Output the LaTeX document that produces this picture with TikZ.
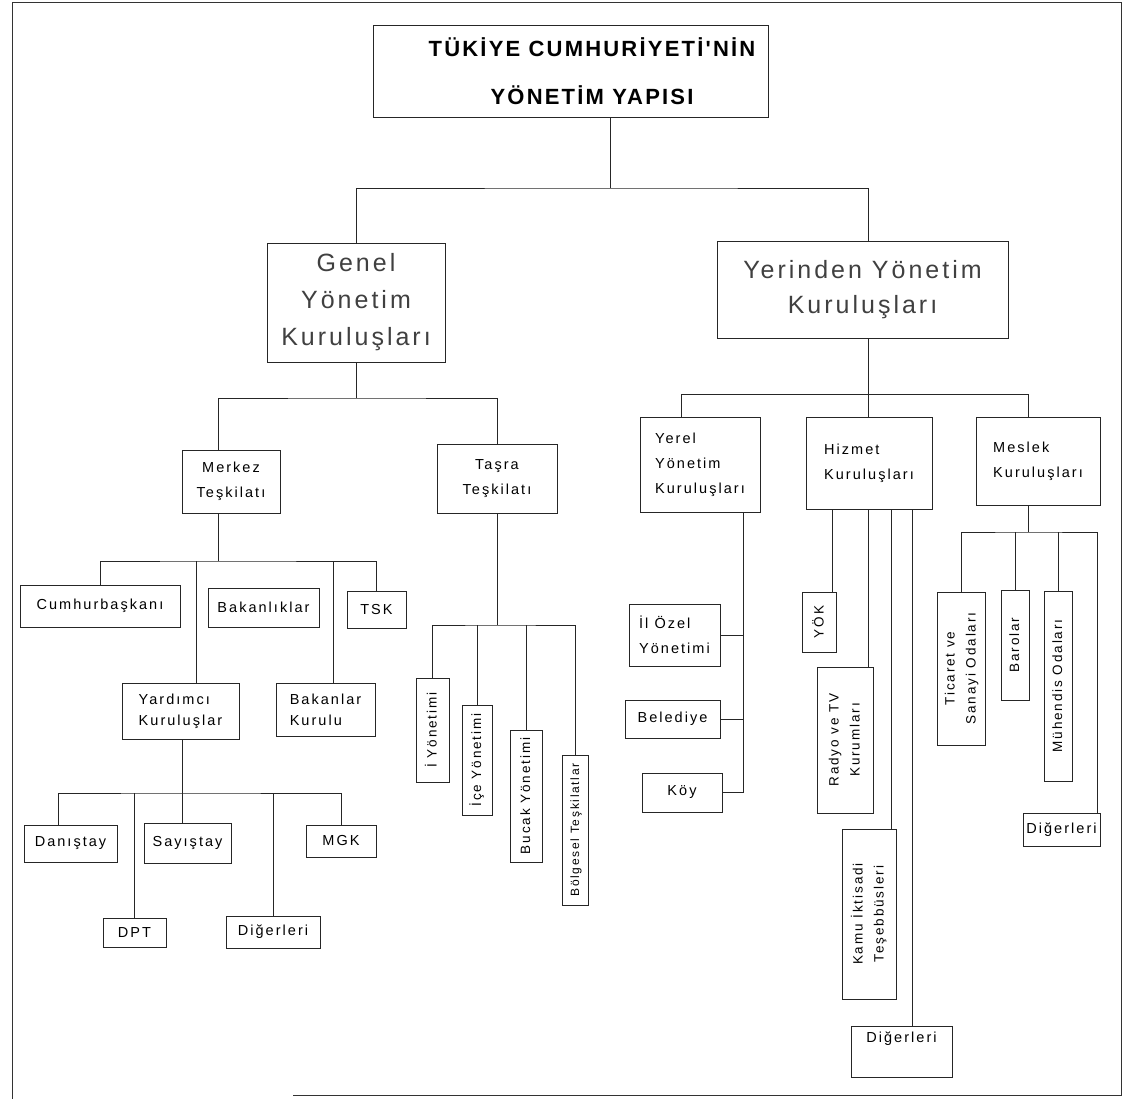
\documentclass[tikz,border=0pt]{standalone}
\usepackage{fontspec}
\usepackage{graphicx}
\setmainfont{Liberation Sans}
\newfontfamily\titlefont{Liberation Sans}[LetterSpace=10]
\newfontfamily\spacedfont{Liberation Sans}[LetterSpace=14]
\newfontfamily\bigfont{Liberation Sans}[LetterSpace=12]
\usetikzlibrary{calc}
\tikzset{
  box/.style={draw=black!85, line width=0.8pt, inner sep=2pt, align=center,
    font=\fontsize{14.5}{25}\selectfont\spacedfont},
  bigbox/.style={box, font=\fontsize{25}{37}\selectfont\bigfont, text=black!75},
  link/.style={draw=black!85, line width=0.8pt},
}
\newcommand{\vtext}[2][13.5]{\rotatebox{90}{\fontsize{#1}{21}\selectfont\spacedfont\begin{tabular}{@{}c@{}}#2\end{tabular}}}

\begin{document}
\begin{tikzpicture}[x=1pt,y=-1pt]
  \useasboundingbox (0,0) rectangle (1133,1099);
  % frame
  \draw[line width=1pt, black!80] (293,1095) -- (1121,1095) -- (1121,3) -- (12,3) -- (12,1099);

  % title
  \node[box, minimum width=395, minimum height=92] at (570.5,71) (title) {};
  \node[font=\fontsize{22}{48}\selectfont\titlefont\bfseries, align=center] at (592,71) (titletext)
    {TÜKİYE CUMHURİYETİ'NİN\\YÖNETİM YAPISI};

  % level 1
  \node[bigbox, minimum width=178, minimum height=119] at (356,302.5) (genel) {Genel\\Yönetim\\Kuruluşları};
  \node[bigbox, font=\fontsize{25}{35}\selectfont\bigfont, minimum width=291, minimum height=97] at (862.5,289.5) (yerinden)
    {Yerinden Yönetim\\Kuruluşları};

  % genel yonetim
  \node[box, minimum width=98, minimum height=63] at (231,481.5) (merkez) {Merkez\\Teşkilatı};
  \node[box, minimum width=120, minimum height=69] at (497,478.5) (tasra) {Taşra\\Teşkilatı};
  \node[box, minimum width=160, minimum height=42] at (100,606) (cumhur) {Cumhurbaşkanı};
  \node[box, minimum width=111, minimum height=39] at (263.5,607.5) (bakanlik) {Bakanlıklar};
  \node[box, minimum width=59, minimum height=37] at (376.5,609.5) (tsk) {TSK};
  \node[box, align=left, minimum width=117, minimum height=56, font=\fontsize{14.5}{21}\selectfont\spacedfont] at (180.5,711) (yardimci) {Yardımcı\\Kuruluşlar};
  \node[box, align=left, minimum width=99, minimum height=53, font=\fontsize{14.5}{21}\selectfont\spacedfont] at (325.5,709.5) (bakanlar) {Bakanlar\\Kurulu};
  \node[box, minimum width=93, minimum height=37] at (70.5,843.5) (danistay) {Danıştay};
  \node[box, minimum width=87, minimum height=40] at (187.5,843) (sayistay) {Sayıştay};
  \node[box, minimum width=70, minimum height=32] at (341,841) (mgk) {MGK};
  \node[box, minimum width=63, minimum height=29] at (134.5,932.5) (dpt) {DPT};
  \node[box, minimum width=94, minimum height=32] at (273,932) (digerleri1) {Diğerleri};
  \node[box, minimum width=33, minimum height=104] at (432.5,730) (ilyon) {\vtext{İ Yönetimi}};
  \node[box, minimum width=30, minimum height=110] at (477,760) (ilceyon) {\vtext{İçe Yönetimi}};
  \node[box, minimum width=32, minimum height=132] at (526,796) (bucak) {\vtext{Bucak Yönetimi}};
  \node[box, minimum width=26, minimum height=150] at (575,830) (bolgesel) {\vtext[12]{Bölgesel Teşkilatlar}};

  % yerinden yonetim
  \node[box, align=left, minimum width=120, minimum height=95] at (700,464.5) (yerel) {Yerel\\Yönetim\\Kuruluşları};
  \node[box, align=left, minimum width=126, minimum height=92] at (869,463) (hizmet) {Hizmet\\Kuruluşları};
  \node[box, align=left, minimum width=124, minimum height=88] at (1038,461) (meslek) {Meslek\\Kuruluşları};
  \node[box, align=left, minimum width=91, minimum height=62] at (674.5,635) (ilozel) {İl Özel\\Yönetimi};
  \node[box, minimum width=95, minimum height=38] at (672.5,719) (belediye) {Belediye};
  \node[box, minimum width=80, minimum height=39] at (682,792.5) (koy) {Köy};
  \node[box, minimum width=34, minimum height=60] at (819.5,622) (yok) {\vtext{YÖK}};
  \node[box, minimum width=56, minimum height=146] at (845,740) (radyo) {\vtext{Radyo ve TV\\Kurumları}};
  \node[box, minimum width=54, minimum height=170] at (869,914) (kamu) {\vtext{Kamu İktisadi\\Teşebbüsleri}};
  \node[box, minimum width=101, text height=14, text depth=33] at (901.5,1051.5) (digerleri2) {Diğerleri};
  \node[box, minimum width=48, minimum height=153] at (961,668.5) (ticaret) {\vtext{Ticaret ve\\Sanayi Odaları}};
  \node[box, minimum width=28, minimum height=110] at (1015,645) (barolar) {\vtext{Barolar}};
  \node[box, minimum width=28, minimum height=190] at (1058,686) (muhendis) {\vtext{Mühendis Odaları}};
  \node[box, minimum width=77, minimum height=33] at (1061.5,829.5) (digerleri3) {Diğerleri};

  % junctions
  \coordinate (j0) at (610,188);
  \coordinate (ys) at (868,394);
  \coordinate (j1) at (356,398);
  \coordinate (mx) at (218,0);
  \coordinate (tx) at (497,0);
  \coordinate (j2) at (218,561);
  \coordinate (yv) at (196,0);
  \coordinate (bv) at (333,0);
  \coordinate (j3) at (182,793);
  \coordinate (dx) at (58,0);
  \coordinate (j4) at (497,625);
  \coordinate (j5) at (681,394);
  \coordinate (j6) at (1028,394);
  \coordinate (yv2) at (743,0);
  \coordinate (yx) at (832,0);
  \coordinate (kx) at (891,0);
  \coordinate (gx) at (912,0);
  \coordinate (j7) at (1028,532);
  \coordinate (d3x) at (1097,0);

  % connectors
  \draw[link] (title.south -| j0) -- (j0);
  \draw[link] (genel.north) |- (j0) -| (yerinden.north -| ys);
  \draw[link] (genel.south) -- (j1);
  \draw[link] (merkez.north -| mx) |- (j1) -| (tasra.north -| tx);
  \draw[link] (merkez.south -| j2) -- (j2);
  \draw[link] (cumhur.north) |- (j2) -| (tsk.north);
  \draw[link] (j2 -| yv) -- (yardimci.north -| yv);
  \draw[link] (j2 -| bv) -- (bakanlar.north -| bv);
  \draw[link] (yardimci.south -| j3) -- (sayistay.north -| j3);
  \draw[link] (danistay.north -| dx) |- (j3) -| (mgk.north);
  \draw[link] (dpt.north) -- (dpt.north |- j3);
  \draw[link] (digerleri1.north) -- (digerleri1.north |- j3);
  \draw[link] (tasra.south -| j4) -- (j4);
  \draw[link] (ilyon.north) |- (j4) -| (bolgesel.north);
  \draw[link] (ilceyon.north) -- (ilceyon.north |- j4);
  \draw[link] (bucak.north) -- (bucak.north |- j4);
  \draw[link] (yerinden.south -| ys) -- (hizmet.north -| ys);
  \draw[link] (yerel.north -| j5) -- (j5) -- (j6) -- (meslek.north -| j6);
  \draw[link] (yerel.south -| yv2) |- (koy.east);
  \draw[link] (ilozel.east) -- (ilozel.east -| yv2);
  \draw[link] (belediye.east) -- (belediye.east -| yv2);
  \draw[link] (hizmet.south -| yx) -- (yok.north -| yx);
  \draw[link] (hizmet.south -| ys) -- (radyo.north -| ys);
  \draw[link] (hizmet.south -| kx) -- (kamu.north -| kx);
  \draw[link] (hizmet.south -| gx) -- (digerleri2.north -| gx);
  \draw[link] (meslek.south -| j7) -- (j7);
  \draw[link] (ticaret.north) |- (j7) -| (digerleri3.north -| d3x);
  \draw[link] (barolar.north) -- (barolar.north |- j7);
  \draw[link] (muhendis.north) -- (muhendis.north |- j7);
\end{tikzpicture}
\end{document}
